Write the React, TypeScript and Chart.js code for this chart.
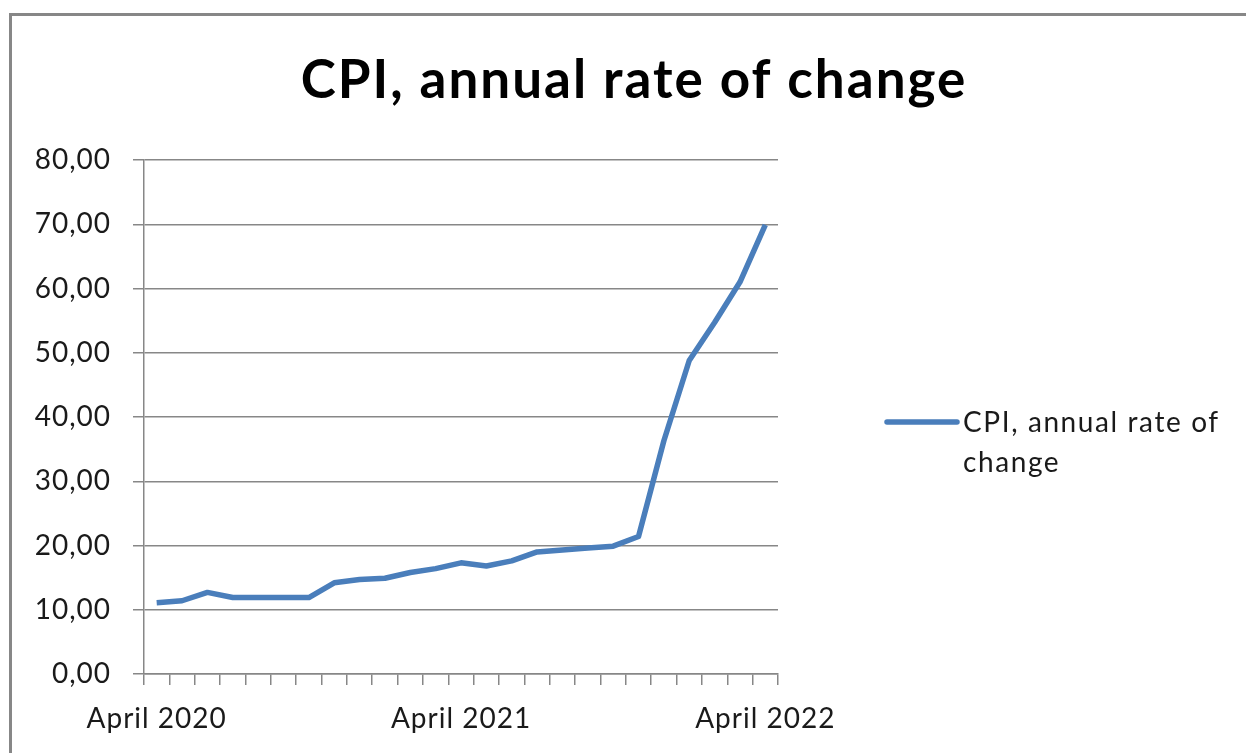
import React, { useEffect, useRef } from "react";
import { Chart, registerables } from "chart.js";

Chart.register(...registerables);

// Monthly observations, April 2020 – April 2022
const months: string[] = [
  "April 2020", "May 2020", "June 2020", "July 2020", "August 2020", "September 2020",
  "October 2020", "November 2020", "December 2020", "January 2021", "February 2021", "March 2021",
  "April 2021", "May 2021", "June 2021", "July 2021", "August 2021", "September 2021",
  "October 2021", "November 2021", "December 2021", "January 2022", "February 2022", "March 2022",
  "April 2022",
];

const cpiRate: number[] = [
  11.1, 11.4, 12.7, 11.9, 11.9, 11.9, 11.9, 14.2, 14.7, 14.9, 15.8, 16.4,
  17.3, 16.8, 17.6, 19.0, 19.3, 19.6, 19.9, 21.4, 36.3, 48.8, 54.7, 61.0,
  69.9,
];

// Only these categories carry a visible axis label
const labelledMonths: string[] = ["April 2020", "April 2021", "April 2022"];

const seriesName = "CPI, annual rate of change";
const legendLines: string[] = ["CPI, annual rate of", "change"];

const LINE_COLOR = "#4a7ebb";
const GRID_COLOR = "#878787";
const TEXT_COLOR = "#1a1a1a";
const FONT = "Lato, 'Open Sans', sans-serif";

// Slightly wider tracking for all chart text
const textTracking = {
  id: "textTracking",
  beforeDraw(chart: Chart) {
    (chart.ctx as any).letterSpacing = "1px";
  },
  afterDraw(chart: Chart) {
    (chart.ctx as any).letterSpacing = "0px";
  },
};

// Heading centred over the whole frame
const heading = {
  id: "heading",
  afterDraw(chart: Chart) {
    const { ctx } = chart;
    ctx.save();
    (ctx as any).letterSpacing = "2px";
    ctx.fillStyle = "#000";
    ctx.font = `bold 53px ${FONT}`;
    ctx.textAlign = "center";
    ctx.textBaseline = "middle";
    ctx.fillText(seriesName, (chart.width + 20) / 2 + 1, 81);
    ctx.restore();
  },
};

// Series key to the right of the plot, wrapped over two lines
const sideLegend = {
  id: "sideLegend",
  afterDraw(chart: Chart) {
    const { ctx, chartArea } = chart;
    const ds = chart.data.datasets[0] as any;
    const x0 = chartArea.right + 109;
    const y0 = chartArea.top + 262;
    ctx.save();
    ctx.strokeStyle = ds.borderColor;
    ctx.lineWidth = ds.borderWidth;
    ctx.lineCap = "round";
    ctx.beginPath();
    ctx.moveTo(x0, y0);
    ctx.lineTo(x0 + 70, y0);
    ctx.stroke();
    (ctx as any).letterSpacing = "1.6px";
    ctx.fillStyle = TEXT_COLOR;
    ctx.font = `28px ${FONT}`;
    ctx.textAlign = "left";
    ctx.textBaseline = "middle";
    legendLines.forEach((line, i) => {
      ctx.fillText(line, x0 + 76, y0 + 1 + i * 40);
    });
    ctx.restore();
  },
};

export default function App() {
  const canvasRef = useRef<HTMLCanvasElement | null>(null);

  useEffect(() => {
    const canvas = canvasRef.current;
    if (!canvas) return;
    const chart = new Chart(canvas, {
      type: "line",
      data: {
        labels: months,
        datasets: [
          {
            label: seriesName,
            data: cpiRate,
            borderColor: LINE_COLOR,
            backgroundColor: LINE_COLOR,
            borderWidth: 5.5,
            pointRadius: 0,
            tension: 0,
            borderJoinStyle: "round",
          },
        ],
      },
      options: {
        responsive: false,
        animation: false,
        layout: { padding: { left: 0, right: 468, top: 160, bottom: 0 } },
        plugins: {
          legend: { display: false },
          tooltip: { enabled: false },
          title: { display: false },
        },
        scales: {
          x: {
            type: "category",
            offset: true,
            grid: {
              offset: true,
              drawOnChartArea: false,
              drawTicks: true,
              tickLength: 11,
              color: GRID_COLOR,
              lineWidth: 1.5,
            },
            border: { display: true, color: GRID_COLOR, width: 1.5 },
            ticks: {
              autoSkip: false,
              maxRotation: 0,
              padding: 17,
              color: TEXT_COLOR,
              font: { family: FONT, size: 28 },
              callback(value: any, index: number) {
                const name = months[index];
                return labelledMonths.includes(name) ? name : "";
              },
            },
            afterFit(scale: any) {
              scale.height = 79;
            },
          },
          y: {
            type: "linear",
            position: "left",
            min: 0,
            max: 80,
            grid: {
              color: GRID_COLOR,
              lineWidth: 1.5,
              drawTicks: true,
              tickLength: 11,
            },
            border: { display: true, color: GRID_COLOR, width: 1.5 },
            ticks: {
              stepSize: 10,
              padding: 22,
              color: TEXT_COLOR,
              font: { family: FONT, size: 28 },
              callback(value: any) {
                return Number(value).toFixed(2).replace(".", ",");
              },
            },
            afterFit(scale: any) {
              scale.width = 144;
            },
          },
        },
      },
      plugins: [textTracking, heading, sideLegend],
    });
    return () => chart.destroy();
  }, []);

  return (
    <div
      style={{
        position: "fixed",
        left: 0,
        top: 0,
        width: 1246,
        height: 753,
        overflow: "hidden",
        background: "#fff",
      }}
    >
      <div
        style={{
          position: "absolute",
          left: 9,
          top: 13,
          width: 1400,
          height: 900,
          borderTop: `3px solid ${GRID_COLOR}`,
          borderLeft: `3px solid ${GRID_COLOR}`,
        }}
      />
      <canvas
        ref={canvasRef}
        width={1246}
        height={753}
        style={{ position: "absolute", left: 0, top: 0, width: 1246, height: 753 }}
      />
    </div>
  );
}
